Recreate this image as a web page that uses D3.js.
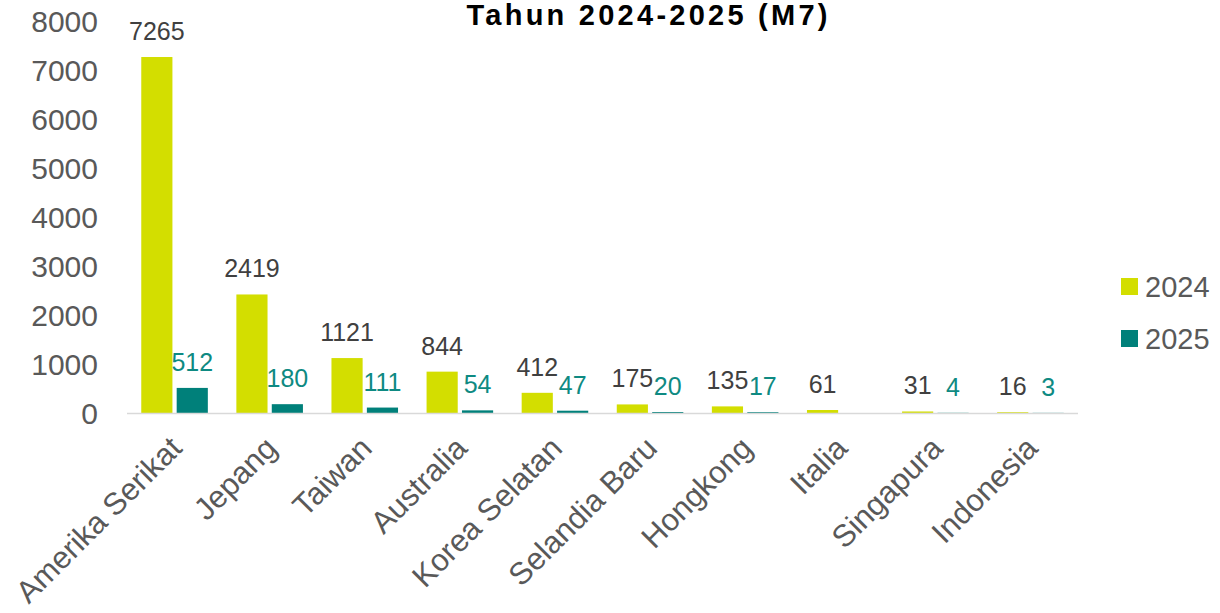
<!DOCTYPE html>
<html>
<head>
<meta charset="utf-8">
<script src="https://cdn.jsdelivr.net/npm/d3@7"></script>
<style>
  body { margin: 0; background: #fff; }
  text { font-family: "Liberation Sans", Arial, sans-serif; }
</style>
</head>
<body>
<div id="chart"></div>
<script>
var countries = ["Amerika Serikat", "Jepang", "Taiwan", "Australia", "Korea Selatan", "Selandia Baru", "Hongkong", "Italia", "Singapura", "Indonesia"];
var years = ["2024", "2025"];
var values2024 = [7265, 2419, 1121, 844, 412, 175, 135, 61, 31, 16];
var values2025 = [512, 180, 111, 54, 47, 20, 17, null, 4, 3];
var yTicks = [0, 1000, 2000, 3000, 4000, 5000, 6000, 7000, 8000];
var titleText = "Tahun 2024-2025 (M7)";

var colors = {"2024": "#d3de00", "2025": "#00807a"};
var labelColors = {"2024": "#404040", "2025": "#0e8a82"};

var width = 1220, height = 613;

var svg = d3.select("#chart")
    .append("svg")
    .attr("width", width)
    .attr("height", height);

var xScale = d3.scaleBand()
    .domain(countries)
    .range([127, 1078])
    .paddingInner(0.3)
    .paddingOuter(0.15);

var xInner = d3.scaleBand()
    .domain(years)
    .range([0, xScale.bandwidth()])
    .paddingInner(0.12);

var yScale = d3.scaleLinear()
    .domain([0, 8000])
    .range([413, 21]);

var data = countries.map(function(c, i) {
    return {country: c, values: [
        {year: "2024", value: values2024[i]},
        {year: "2025", value: values2025[i]}
    ]};
});

// title, right at the top edge
svg.append("text")
    .attr("x", 647)
    .attr("y", 25)
    .attr("text-anchor", "middle")
    .attr("textLength", 361)
    .attr("lengthAdjust", "spacing")
    .style("font-size", "29px")
    .style("font-weight", "bold")
    .style("fill", "#000")
    .text(titleText);

// y axis labels
svg.selectAll(".yTick")
    .data(yTicks)
    .enter()
    .append("text")
    .attr("class", "yTick")
    .attr("x", 98)
    .attr("y", function(d) { return yScale(d); })
    .attr("dy", "0.36em")
    .attr("text-anchor", "end")
    .style("font-size", "30px")
    .style("fill", "#595959")
    .text(function(d) { return d; });

var groups = svg.selectAll(".group")
    .data(data)
    .enter()
    .append("g")
    .attr("class", "group")
    .attr("transform", function(d) { return "translate(" + xScale(d.country) + ",0)"; });

groups.selectAll("rect")
    .data(function(d) { return d.values.filter(function(v) { return v.value != null; }); })
    .enter()
    .append("rect")
    .attr("x", function(d) { return xInner(d.year); })
    .attr("y", function(d) { return yScale(d.value); })
    .attr("width", xInner.bandwidth())
    .attr("height", function(d) { return yScale(0) - yScale(d.value); })
    .style("fill", function(d) { return colors[d.year]; });

groups.selectAll(".valueLabel")
    .data(function(d) { return d.values.filter(function(v) { return v.value != null; }); })
    .enter()
    .append("text")
    .attr("class", "valueLabel")
    .attr("x", function(d) { return xInner(d.year) + xInner.bandwidth() / 2; })
    .attr("y", function(d) { return yScale(d.value) - 17; })
    .attr("text-anchor", "middle")
    .style("font-size", "25px")
    .style("fill", function(d) { return labelColors[d.year]; })
    .text(function(d) { return d.value; });

// x axis line
svg.append("line")
    .attr("x1", 127)
    .attr("x2", 1078)
    .attr("y1", yScale(0) + 0.5)
    .attr("y2", yScale(0) + 0.5)
    .style("stroke", "#d9d9d9")
    .style("stroke-width", 1.5);

// category labels
svg.selectAll(".xLabel")
    .data(countries)
    .enter()
    .append("text")
    .attr("class", "xLabel")
    .attr("transform", function(d) {
        return "translate(" + (xScale(d) + xScale.bandwidth() / 2 + 9) + ",450) rotate(-45)";
    })
    .attr("text-anchor", "end")
    .style("font-size", "31px")
    .style("fill", "#595959")
    .text(function(d) { return d; });

// legend
var legend = svg.selectAll(".legend")
    .data(years)
    .enter()
    .append("g")
    .attr("class", "legend")
    .attr("transform", function(d, i) { return "translate(1121," + (278 + i * 52) + ")"; });

legend.append("rect")
    .attr("width", 17)
    .attr("height", 17)
    .style("fill", function(d) { return colors[d]; });

legend.append("text")
    .attr("x", 24)
    .attr("y", 8.5)
    .attr("dy", "0.36em")
    .style("font-size", "29px")
    .style("fill", "#595959")
    .text(function(d) { return d; });
</script>
</body>
</html>
